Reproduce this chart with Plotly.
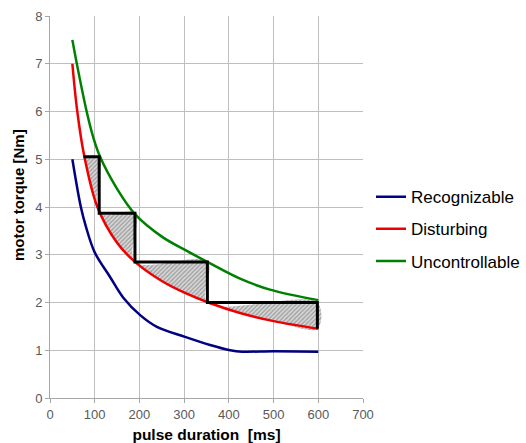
import plotly.graph_objects as go

# Data
rec_x = [50, 69, 80, 100, 134, 164, 201, 239, 302, 358, 403, 430, 500, 600]
rec_y = [5.0, 4.0, 3.6, 3.05, 2.54, 2.1, 1.74, 1.49, 1.28, 1.11, 1.0, 0.97, 0.98, 0.97]

dis_x = [50, 61, 77, 106, 150, 190, 250, 302, 354, 425, 500, 600]
dis_y = [7.0, 6.0, 5.05, 4.0, 3.25, 2.85, 2.45, 2.2, 2.0, 1.78, 1.61, 1.45]

unc_x = [50, 60, 82, 97, 112, 150, 190, 250, 306, 354, 425, 492, 600]
unc_y = [7.5, 7.0, 6.0, 5.45, 5.05, 4.38, 3.85, 3.38, 3.08, 2.84, 2.5, 2.27, 2.05]

step_x = [75, 110, 110, 190, 190, 352, 352, 598, 598]
step_y = [5.05, 5.05, 3.87, 3.87, 2.85, 2.85, 2.0, 2.0, 1.45]

x_ticks = [0, 100, 200, 300, 400, 500, 600, 700]
y_ticks = [0, 1, 2, 3, 4, 5, 6, 7, 8]

# Hatched region: step outline, then red curve back
red_back = [(x, y) for x, y in zip(dis_x, dis_y) if 75 <= x < 598][::-1]
poly_x = step_x + [p[0] for p in red_back]
poly_y = step_y + [p[1] for p in red_back]

fig = go.Figure()
fig.add_trace(go.Scatter(
    x=poly_x, y=poly_y, mode="lines", fill="toself",
    line=dict(width=0, color="rgba(0,0,0,0)", shape="spline"),
    fillcolor="rgba(255,255,255,0)",
    fillpattern=dict(shape="/", fgcolor="#666666", bgcolor="#d9d9d9", size=3, solidity=0.45),
    showlegend=False, hoverinfo="skip"))

fig.add_trace(go.Scatter(x=rec_x, y=rec_y, mode="lines", name="Recognizable",
                         line=dict(color="#000080", width=2.5, shape="spline"),
                         legendgroup="a"))
fig.add_trace(go.Scatter(x=dis_x, y=dis_y, mode="lines", name="Disturbing",
                         line=dict(color="#ee0000", width=2.5, shape="spline"),
                         legendgroup="b"))
fig.add_trace(go.Scatter(x=unc_x, y=unc_y, mode="lines", name="Uncontrollable",
                         line=dict(color="#008000", width=2.5, shape="spline"),
                         legendgroup="c"))
fig.add_trace(go.Scatter(x=step_x, y=step_y, mode="lines",
                         line=dict(color="#000000", width=3),
                         showlegend=False, hoverinfo="skip"))

axis_common = dict(showgrid=True, gridcolor="#bfbfbf", gridwidth=1,
                   showline=True, linecolor="#a6a6a6", linewidth=1,
                   ticks="outside", ticklen=4, tickcolor="#a6a6a6",
                   tickfont=dict(family="Liberation Sans, Arial", size=13, color="#595959"),
                   zeroline=False, mirror=False, automargin=False)

fig.update_layout(
    width=526, height=443,
    margin=dict(l=50, r=163, t=16, b=45, autoexpand=False),
    paper_bgcolor="white", plot_bgcolor="white",
    font=dict(family="Liberation Sans, Arial", color="#000000"),
    xaxis=dict(range=[0, 700], tickvals=x_ticks, **axis_common,
               title=dict(text="<b>pulse duration  [ms]</b>", font=dict(size=15.5), standoff=8)),
    yaxis=dict(range=[0, 8], tickvals=y_ticks, **axis_common),
    legend=dict(x=1 + (371 - 363) / 313, y=0.442, xanchor="left", yanchor="middle",
                font=dict(size=17, family="Liberation Sans, Arial"),
                tracegroupgap=7, itemwidth=30, bgcolor="rgba(0,0,0,0)"),
    annotations=[dict(text="<b>motor torque [Nm]</b>", textangle=-90,
                      xref="paper", yref="paper", x=(18 - 50) / 313, y=(398 - 195) / 382,
                      xanchor="center", yanchor="middle", showarrow=False,
                      font=dict(size=15, family="Liberation Sans, Arial", color="#000000"))],
)

fig.write_html("out.html", post_script="document.body.style.margin='0';",
               config={"displayModeBar": False})
